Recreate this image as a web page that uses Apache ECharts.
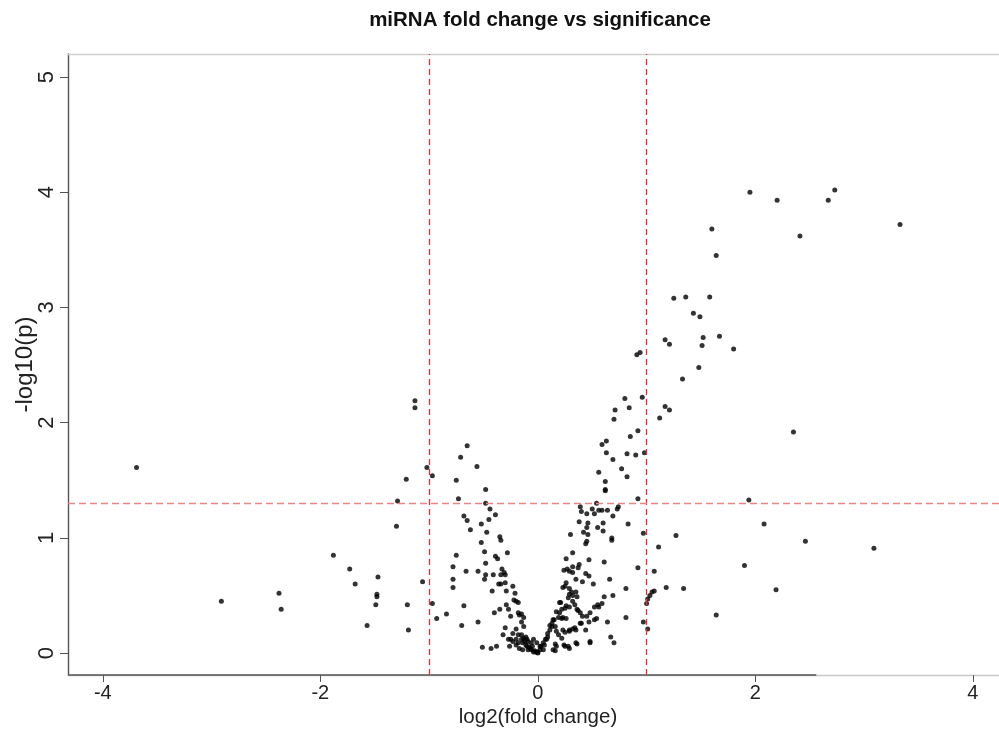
<!DOCTYPE html>
<html>
<head>
<meta charset="utf-8">
<script src="https://cdn.jsdelivr.net/npm/echarts@6/dist/echarts.min.js"></script>
<style>html,body{margin:0;padding:0;background:#fff;}#c{width:999px;height:731px;}</style>
</head>
<body>
<div id="c"></div>
<script>
// log2 fold change and -log10(p) of each miRNA
const log2FC = [
-3.69,-2.91,-2.38,-2.36,-1.88,-1.73,-1.68,-1.47,-1.48,-1.48,-1.49,-1.57,-1.29,-1.30,-1.20,-1.19,-1.06,-0.97,-0.93,-0.84,-1.13,-1.13,-1.02,-0.97,-1.21,
-0.65,-0.71,-0.56,-0.75,-0.48,-0.73,-0.48,-0.44,-0.39,-0.68,-0.65,-0.45,-0.52,-0.62,-0.47,-0.35,
-0.52,-0.34,-0.75,-0.49,-0.39,-0.37,-0.28,-0.78,-0.66,-0.55,-0.48,-0.48,-0.49,-0.41,-0.33,-0.31,-0.30,-0.34,-0.78,-0.78,-0.36,-0.34,-0.30,-0.42,-0.29,-0.23,-0.21,-0.22,-0.20,-0.18,
-0.68,-0.29,-0.27,-0.35,-0.40,-0.18,-0.17,-0.15,-0.13,-0.25,-0.55,-0.70,-0.15,-0.13,-0.30,-0.20,-0.27,-0.25,-0.23,-0.18,-0.32,-0.26,-0.20,-0.51,-0.43,-0.38,-0.17,-0.14,-0.10,-0.09,-0.06,-0.04,-0.01,-0.09,-0.06,-0.05,-0.11,-0.10,-0.15,-0.14,
-0.23,-0.20,-0.18,-0.15,-0.13,-0.12,-0.11,-0.08,-0.07,-0.03,-0.02,0.00,
0.44,0.45,0.68,1.11,0.32,0.26,0.47,0.61,0.32,0.38,0.37,0.24,0.27,0.29,0.32,0.92,1.07,0.44,0.47,0.35,0.41,0.66,0.26,0.25,0.23,0.51,0.29,0.31,0.29,0.32,0.35,0.36,0.81,1.18,1.34,1.07,1.05,1.03,1.01,1.00,0.69,0.61,0.21,0.32,0.34,0.59,0.56,0.25,0.29,0.36,0.37,0.17,0.48,0.41,0.81,0.19,0.22,0.23,0.26,0.47,0.52,0.54,0.14,0.13,0.11,0.64,0.97,1.01,0.39,0.23,0.29,0.32,0.34,0.44,0.16,0.17,0.19,0.22,0.67,0.70,0.48,0.36,0.24,0.25,0.29,0.16,0.17,0.14,0.16,-0.04,-0.01,0.02,0.05,0.00,0.06,0.08,0.09,
0.02,0.03,0.05,0.07,0.09,0.11,0.13,0.15,0.20,0.22,0.20,0.26,0.28,0.39,0.45,0.40,0.35,0.29,0.25,0.28,0.35,0.48,0.52,0.55,
0.84,0.71,0.70,1.17,1.21,1.12,0.92,0.85,0.63,0.59,0.63,0.82,0.90,0.98,0.69,0.56,0.77,0.82,0.62,0.62,0.62,0.92,0.54,0.39,0.74,0.73,0.50,0.56,0.59,0.64,0.40,0.45,0.52,0.69,0.38,0.46,0.60,0.83,0.45,0.55,0.60,0.30,0.42,0.46,0.68,0.97,1.27,
1.94,2.08,2.46,3.09,1.90,2.19,1.64,
1.60,1.64,1.25,1.36,1.58,1.43,1.49,1.17,1.21,1.52,1.51,1.67,1.80,0.91,0.94,1.48,1.33,0.80,0.96,
1.95,2.20,2.67,2.73,2.41,3.33,2.35
];
const negLog10P = [
1.61,0.45,0.52,0.38,0.85,0.73,0.60,0.66,0.51,0.49,0.42,0.24,1.32,1.10,0.42,0.20,0.62,0.43,0.30,0.34,2.19,2.13,1.61,1.54,1.51,
1.80,1.70,1.62,1.50,1.42,1.34,1.30,1.25,1.20,1.19,1.15,1.16,1.12,1.07,1.05,1.01,
0.96,0.98,0.85,0.88,0.84,0.82,0.87,0.75,0.71,0.71,0.78,0.68,0.64,0.68,0.73,0.70,0.68,0.68,0.64,0.57,0.60,0.60,0.61,0.54,0.54,0.58,0.52,0.46,0.45,0.44,
0.41,0.42,0.38,0.38,0.35,0.35,0.33,0.34,0.31,0.32,0.27,0.24,0.27,0.23,0.22,0.21,0.12,0.12,0.10,0.16,0.16,0.06,0.07,0.05,0.04,0.06,0.04,0.03,0.06,0.03,0.03,0.01,0.01,0.10,0.09,0.06,0.14,0.12,0.12,0.09,
0.17,0.12,0.09,0.16,0.13,0.10,0.07,0.05,0.04,0.02,0.01,0.00,
0.95,0.97,0.98,0.92,0.87,0.82,0.81,0.79,0.75,0.77,0.74,0.72,0.73,0.71,0.70,0.74,0.71,0.69,0.67,0.64,0.62,0.64,0.61,0.58,0.57,0.60,0.56,0.53,0.51,0.50,0.53,0.49,0.56,0.57,0.56,0.54,0.53,0.50,0.47,0.43,0.50,0.49,0.44,0.45,0.42,0.43,0.40,0.39,0.40,0.38,0.37,0.36,0.35,0.32,0.31,0.31,0.30,0.31,0.30,0.27,0.29,0.30,0.29,0.26,0.24,0.27,0.27,0.21,0.26,0.20,0.20,0.21,0.22,0.20,0.23,0.19,0.16,0.13,0.14,0.09,0.09,0.08,0.07,0.06,0.04,0.08,0.06,0.03,0.02,0.12,0.09,0.06,0.03,0.01,0.07,0.12,0.14,
0.03,0.06,0.09,0.12,0.17,0.20,0.23,0.29,0.35,0.38,0.44,0.41,0.48,0.35,0.32,0.26,0.20,0.19,0.18,0.06,0.09,0.10,0.40,0.42,
2.13,2.11,2.03,2.14,2.11,2.04,1.93,1.88,1.84,1.81,1.74,1.73,1.72,1.74,1.68,1.57,1.60,1.53,1.49,1.42,1.41,1.34,1.30,1.27,1.27,1.25,1.25,1.24,1.24,1.24,1.23,1.21,1.21,1.19,1.14,1.13,1.13,1.12,1.09,1.09,1.06,1.03,1.05,1.03,1.00,1.04,1.02,
1.33,1.12,0.97,0.91,0.76,0.55,0.33,
3.68,3.45,3.08,3.09,3.09,2.95,2.92,2.72,2.68,2.74,2.67,2.75,2.64,2.59,2.61,2.48,2.38,2.21,2.22,
4.00,3.93,3.93,4.02,3.62,3.72,1.92
];
const xTicks = [-4, -2, 0, 2, 4];
const yTicks = [0, 1, 2, 3, 4, 5];
const foldCutoffs = [-1, 1];
const pCutoff = 1.301; // -log10(0.05)

const xMin = -4.32, xMax = 4.24, yMin = -0.19, yMax = 5.2;
const points = log2FC.map((x, i) => [x, negLog10P[i]]);

const font = 'Liberation Sans, Arial, Helvetica, sans-serif';
const chart = echarts.init(document.getElementById('c'), null, {renderer: 'canvas'});
chart.setOption({
  animation: false,
  backgroundColor: '#fff',
  title: {
    text: 'miRNA fold change vs significance',
    left: 535, top: 5, textAlign: 'center',
    textStyle: {fontFamily: font, fontSize: 20.5, fontWeight: 'bold', color: '#111'}
  },
  grid: {left: 68, right: 0, top: 54, bottom: 56, outerBoundsMode: 'none', containLabel: false},
  xAxis: [{
    type: 'value', min: xMin, max: xMax, position: 'bottom',
    name: 'log2(fold change)', nameLocation: 'middle', nameGap: 32, nameMoveOverlap: false,
    nameTextStyle: {fontFamily: font, fontSize: 20.5, color: '#222', padding: [0, 0, 0, 9]},
    splitLine: {show: false},
    axisLine: {show: true, onZero: false, lineStyle: {color: '#c8c8c8', width: 1.4}},
    axisTick: {show: true, length: 7, customValues: xTicks, lineStyle: {color: '#555'}},
    axisLabel: {customValues: xTicks, margin: 8, fontFamily: font, fontSize: 20, color: '#222'}
  }, {
    type: 'value', min: xMin, max: xMax, position: 'top',
    splitLine: {show: false},
    axisLine: {show: true, onZero: false, lineStyle: {color: '#d0d0d0', width: 1.4}},
    axisTick: {show: false}, axisLabel: {show: false}
  }],
  yAxis: {
    type: 'value', min: yMin, max: yMax,
    name: '-log10(p)', nameLocation: 'middle', nameGap: 31, nameRotate: 90, nameMoveOverlap: false,
    nameTextStyle: {fontFamily: font, fontSize: 24, color: '#222'},
    splitLine: {show: false},
    axisLine: {show: true, onZero: false, lineStyle: {color: '#555', width: 1.4}},
    axisTick: {show: true, length: 8, customValues: yTicks, lineStyle: {color: '#555'}},
    axisLabel: {customValues: yTicks, rotate: 90, margin: 10, fontFamily: font, fontSize: 22, color: '#222'}
  },
  series: [{
    type: 'line', silent: true, clip: false, symbol: 'none',
    data: [[xMin, yMin], [2.56, yMin]],
    lineStyle: {color: '#555', width: 1.4}, z: 3
  }, {
    type: 'scatter', symbolSize: 5, data: points,
    itemStyle: {color: '#000'}, z: 2,
    markLine: {
      silent: true, symbol: 'none', label: {show: false},
      data: [
        {xAxis: foldCutoffs[0], lineStyle: {color: '#dd3340', type: [6, 4], width: 1.3}},
        {xAxis: foldCutoffs[1], lineStyle: {color: '#dd3340', type: [6, 4], width: 1.3}},
        {yAxis: pCutoff, lineStyle: {color: '#e98585', type: [7, 4], width: 1.4}}
      ]
    }
  }]
});
</script>
</body>
</html>
